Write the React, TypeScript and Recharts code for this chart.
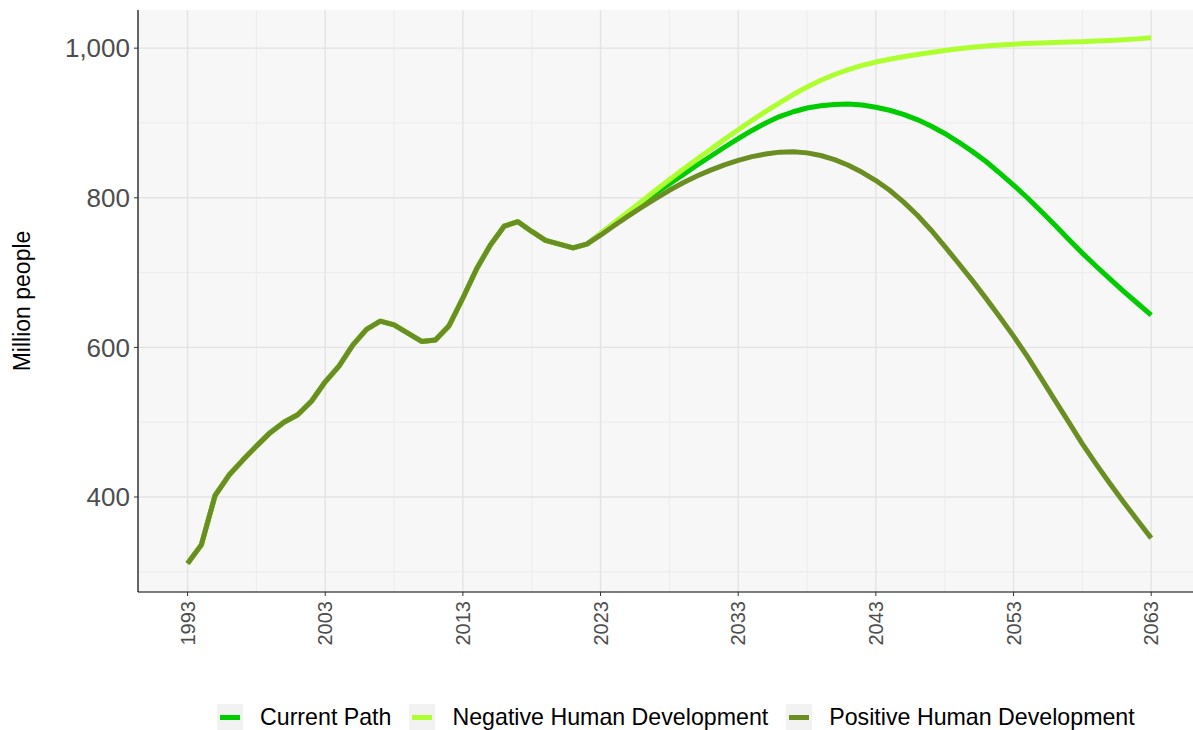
import React from 'react';
import { LineChart, Line, XAxis, YAxis, CartesianGrid, Label } from 'recharts';

const years = [
  1993, 1994, 1995, 1996, 1997, 1998, 1999, 2000, 2001, 2002,
  2003, 2004, 2005, 2006, 2007, 2008, 2009, 2010, 2011, 2012,
  2013, 2014, 2015, 2016, 2017, 2018, 2019, 2020, 2021, 2022,
  2023, 2024, 2025, 2026, 2027, 2028, 2029, 2030, 2031, 2032,
  2033, 2034, 2035, 2036, 2037, 2038, 2039, 2040, 2041, 2042,
  2043, 2044, 2045, 2046, 2047, 2048, 2049, 2050, 2051, 2052,
  2053, 2054, 2055, 2056, 2057, 2058, 2059, 2060, 2061, 2062, 2063,
];

// 1993-2022, shared by all scenarios
const historical = [
  311, 336, 402, 429, 449, 468, 486, 500, 510, 528,
  554, 575, 603, 624, 635, 630, 619, 608, 610, 629,
  666, 705, 737, 762, 768, 755, 743, 738, 733, 738,
];

// 2023-2063
const currentPath = [
  752, 766, 780, 793.5, 806, 818.5, 831, 843.5, 855.5, 867.5,
  879, 890, 900, 908.5, 915, 920, 923, 924.8, 925.2, 924,
  921, 917, 911.5, 904.5, 896, 886, 874.5, 862, 848.5, 833,
  817, 800, 782, 763.5, 744.5, 726, 708.5, 691.5, 675, 659, 643,
];

const negativeHD = [
  752, 766.5, 781, 795.5, 810, 824, 838, 851.5, 865, 878,
  891, 903.5, 915.5, 927, 938, 948, 957, 964.8, 971.4, 976.9,
  981.4, 985.1, 988.4, 991.4, 994.2, 996.8, 999.1, 1001.1, 1002.8, 1004.2,
  1005.3, 1006.2, 1006.9, 1007.5, 1008.1, 1008.7, 1009.4, 1010.2, 1011.2, 1012.4, 1013.8,
];

const positiveHD = [
  750, 763, 775.5, 787.5, 799, 810, 820, 829, 837, 844,
  850, 855, 858.5, 861, 861.5, 860, 856.5, 851, 843.5, 834,
  823, 810, 794.5, 777, 757, 735, 712.5, 689.5, 665.5, 640.5,
  615, 588, 559, 529.5, 500.5, 471, 444, 418, 393, 369, 345,
];

const xTicks = [1993, 2003, 2013, 2023, 2033, 2043, 2053, 2063];
const xMinor = [1998, 2008, 2018, 2028, 2038, 2048, 2058];
const yTicks = [400, 600, 800, 1000];
const yMinor = [300, 500, 700, 900];

const seriesNames = ['Current Path', 'Negative Human Development', 'Positive Human Development'];
const seriesColors = ['#00CC00', '#ADFF2F', '#6B8E23'];

const data = years.map((year, i) => {
  const h = i < historical.length;
  const j = i - historical.length;
  return {
    year,
    current: h ? historical[i] : currentPath[j],
    negative: h ? historical[i] : negativeHD[j],
    positive: h ? historical[i] : positiveHD[j],
  };
});

const FONT = '"Liberation Sans", Arial, Helvetica, sans-serif';

const XTick = (props: any) => {
  const { x, y, payload } = props;
  const ty = y + 3;
  return (
    <text
      x={x}
      y={ty}
      transform={`rotate(-90, ${x}, ${ty})`}
      textAnchor="end"
      dominantBaseline="central"
      fontSize={20}
      fill="#4d4d4d"
      fontFamily={FONT}
    >
      {payload.value}
    </text>
  );
};

const YTitle = (props: any) => {
  const vb = props.viewBox || {};
  const cx = 22;
  const cy = (vb.y || 0) + (vb.height || 0) / 2;
  return (
    <text
      x={cx}
      y={cy}
      transform={`rotate(-90, ${cx}, ${cy})`}
      textAnchor="middle"
      dominantBaseline="central"
      fontSize={23}
      fill="#000"
      fontFamily={FONT}
    >
      Million people
    </text>
  );
};

export default function App() {
  const keys = ['current', 'negative', 'positive'];
  return (
    <div style={{ position: 'absolute', left: 0, top: 0, width: 1193, height: 730, overflow: 'hidden', background: '#fff' }}>
      <LineChart
        width={1198}
        height={730}
        data={data}
        margin={{ top: 10, right: 0, bottom: 0, left: 0 }}
      >
        <CartesianGrid
          fill="#f7f7f7"
          stroke="#ececec"
          strokeWidth={1}
          verticalValues={xMinor}
          horizontalValues={yMinor}
        />
        <CartesianGrid
          stroke="#e3e3e3"
          strokeWidth={1.4}
          verticalValues={xTicks}
          horizontalValues={yTicks}
        />
        <XAxis
          dataKey="year"
          type="number"
          domain={[1989.4, 2066.4]}
          ticks={xTicks}
          interval={0}
          height={138}
          tickSize={4}
          tick={<XTick />}
          axisLine={{ stroke: '#000', strokeWidth: 1.2 }}
          tickLine={{ stroke: '#333' }}
          allowDataOverflow
        />
        <XAxis
          xAxisId="top"
          dataKey="year"
          type="number"
          orientation="top"
          domain={[1989.4, 2066.4]}
          height={0}
          tick={false}
          tickLine={false}
          axisLine={{ stroke: '#000', strokeWidth: 1.2 }}
          allowDataOverflow
        />
        <YAxis
          type="number"
          domain={[273, 1051]}
          ticks={yTicks}
          interval={0}
          width={138}
          tickSize={4}
          tickMargin={4}
          tickFormatter={(v: number) => v.toLocaleString('en-US')}
          tick={{ fontSize: 26, fill: '#4d4d4d', fontFamily: FONT }}
          axisLine={{ stroke: '#000', strokeWidth: 1.2 }}
          tickLine={{ stroke: '#333' }}
          allowDataOverflow
        >
          <Label content={<YTitle />} />
        </YAxis>
        {keys.map((k, i) => (
          <Line
            key={k}
            dataKey={k}
            name={seriesNames[i]}
            type="linear"
            stroke={seriesColors[i]}
            strokeWidth={5}
            dot={false}
            activeDot={false}
            isAnimationActive={false}
            strokeLinejoin="round"
          />
        ))}
      </LineChart>
      <div
        style={{
          position: 'absolute',
          left: 217,
          top: 704,
          height: 26,
          display: 'flex',
          alignItems: 'center',
          fontFamily: FONT,
          fontSize: 23.2,
          color: '#000',
          whiteSpace: 'nowrap',
        }}
      >
        {seriesNames.map((name, i) => (
          <div key={name} style={{ display: 'flex', alignItems: 'center', marginRight: 18 }}>
            <div
              style={{
                width: 26,
                height: 26,
                background: '#f2f2f2',
                display: 'flex',
                alignItems: 'center',
                justifyContent: 'center',
              }}
            >
              <div style={{ width: 20, height: 5, background: seriesColors[i] }} />
            </div>
            <span style={{ marginLeft: 17, lineHeight: '26px' }}>{name}</span>
          </div>
        ))}
      </div>
    </div>
  );
}
